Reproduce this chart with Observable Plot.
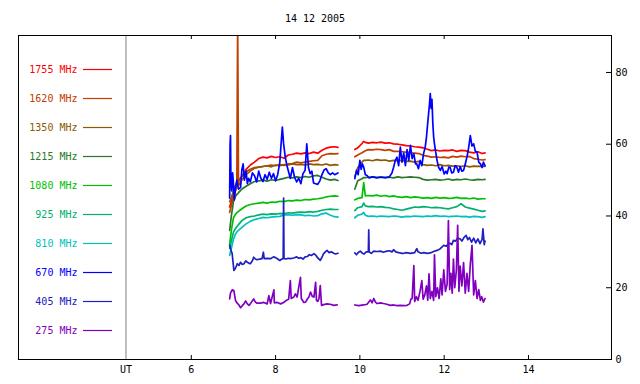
<!DOCTYPE html>
<html><head><meta charset="utf-8">
<script src="https://cdn.jsdelivr.net/npm/d3@7"></script>
<script src="https://cdn.jsdelivr.net/npm/@observablehq/plot@0.6"></script>
<style>
body{margin:0;background:#fff;}
#chart{position:relative;width:640px;height:384px;}
#chart svg{position:absolute;left:0;top:0;}
</style></head><body><div id="chart"></div>
<script>
const title = "14 12 2005";
const freqLabels = ["1755","1620","1350","1215","1080","925","810","670","405","275"];
const seriesColors = ["#ff0000","#c04000","#8c5a00","#287828","#00c000","#00b070","#00c0c0","#0000ff","#2020c0","#8000c0"];
const xTickHours = [6,8,10,12,14];
const utHour = 4.45;
const yTicks = [0,20,40,60,80];

// shared time grid (UT hours) for the smoother series; 9.7 = data gap
const hoursGrid = [6.91,6.95,7.0,7.05,7.08,7.1,7.12,7.2,7.3,7.4,7.5,7.6,7.7,7.8,7.9,8.0,8.1,8.2,8.3,8.4,8.5,8.6,8.7,8.8,8.9,9.0,9.1,9.2,9.3,9.4,9.48,
 9.7,
 9.88,9.95,10.05,10.09,10.13,10.2,10.3,10.4,10.5,10.6,10.7,10.8,10.9,11.0,11.1,11.2,11.3,11.4,11.5,11.6,11.7,11.8,11.9,12.0,12.1,12.2,12.3,12.4,12.5,12.6,12.7,12.8,12.9,12.97];

const mhz1755 = [42.5,44,47,48.5,49,49.3,49.6,51,53,54.2,55,56,56.4,56.2,56.6,56.3,56.5,56.1,57,57.2,57.5,57.3,57.6,57.4,57.8,57.5,58.3,58.9,59.2,59.3,59.1,
 null,
 58.5,59.0,60.2,60.8,60.5,60.3,60.5,60.4,60.6,60.3,60.4,60.1,60.0,59.8,59.6,59.5,59.3,59.2,59.0,58.6,58.2,58.4,58.1,58.3,58.2,58.4,58.0,58.3,58.2,57.8,57.6,57.9,57.4,57.6];
const mhz1620 = [41,43,45,47,48,95,48.5,50,51.5,52.5,53.3,53.6,53.8,54.0,54.2,54.0,54.3,54.1,54.5,54.6,55.0,54.8,55.0,55.2,55.4,55.5,56.8,57.2,57.4,57.3,57.4,
 null,
 56.5,57.0,57.6,57.9,58.2,58.5,58.4,58.6,58.5,58.3,58.5,58.0,58.0,57.9,57.8,57.6,57.5,57.4,56.9,56.7,56.4,56.5,56.3,56.4,56.2,56.6,56.4,56.7,56.5,56.6,56.0,55.8,55.6,55.7];
const mhz1350 = [44,45,47,48.5,49.2,49.5,50,51,52.3,53,53.5,53.6,53.8,54.0,53.7,54.2,54.0,54.3,54.2,54.5,54.3,54.4,54.2,54.5,54.3,54.4,54.2,54.5,54.1,54.3,54.2,
 null,
 51,53.5,55.0,55.5,55.5,55.6,55.4,55.7,55.5,55.6,55.3,55.5,55.4,55.5,55.2,55.3,55.0,55.2,54.3,54.1,54.2,54.0,54.3,54.0,54.1,53.9,54.0,53.8,54.0,53.7,53.9,53.8,53.9,53.8];
const mhz1215 = [36,40,44,45.5,46.0,46.2,46.5,47.5,48.3,49,49.6,49.8,50,49.7,50.1,49.9,50.2,50.5,50.8,50.6,50.9,50.7,51.0,50.8,51.2,51.3,50.8,50.3,50.0,50.2,49.9,
 null,
 47.5,49.8,50.4,50.7,50.7,50.8,50.9,50.8,50.9,50.7,50.8,50.6,50.9,50.7,50.8,50.9,50.8,50.7,50.2,50.0,50.1,50.2,50.0,50.1,50.3,50.0,50.2,50.1,50.3,50.1,50.0,50.2,50.1,50.2];
const mhz1080 = [32,36,39.5,40.5,40.9,41.1,41.3,42,42.8,43.2,43.4,43.6,43.8,43.6,43.9,43.8,44.1,44.0,44.3,44.2,44.4,44.3,44.6,44.5,44.7,44.8,45.0,45.3,45.5,45.6,45.5,
 null,
 44.5,44.9,45.1,49.3,45.6,45.7,45.6,45.8,45.5,45.7,45.4,45.6,45.3,45.2,45.4,45.1,45.3,45.2,45.0,45.1,44.9,45.2,45.0,45.1,44.9,45.0,45.2,44.9,45.0,44.8,45.0,44.7,44.8,44.8];
const mhz925 = [31,33,35.5,36.5,37,37.3,37.6,38.7,39.5,39.8,40.0,40.3,40.5,40.4,40.6,40.5,40.7,40.6,40.9,40.8,41.0,41.1,41.0,41.2,41.1,41.3,41.6,41.8,41.9,41.8,41.8,
 null,
 41.5,42.3,42.6,43.6,42.8,42.6,42.7,42.5,42.6,42.4,42.3,42.0,41.8,41.6,41.9,42.2,42.5,42.4,42.6,42.5,42.3,42.4,42.3,42.1,42.0,42.3,42.6,43.4,42.5,42.2,41.9,41.6,41.3,41.4];
const mhz810 = [29,31,33.5,35,35.5,35.8,36,36.8,37.8,38.5,39.0,39.3,39.6,39.5,39.7,39.8,39.9,40.3,40.4,40.2,40.4,40.3,40.1,40.2,40.0,40.1,40.6,40.8,40.2,39.8,39.7,
 null,
 39.5,40.2,40.5,41.0,40.2,39.9,40.0,39.8,40.0,39.9,39.8,40.0,39.9,39.7,39.9,39.8,40.0,39.9,39.8,40.0,39.9,40.1,39.9,40.0,39.8,39.9,40.0,39.8,39.9,39.7,39.9,39.8,39.6,39.8];

// noisy series with their own sample times
const hours670 = [6.91,6.92,6.93,6.94,6.96,6.98,7.0,7.02,7.05,7.08,7.12,7.17,7.2,7.23,7.26,7.3,7.33,7.36,7.4,7.45,7.5,7.55,7.6,7.65,7.7,7.75,7.8,7.85,7.9,7.95,8.0,8.05,8.1,8.13,8.16,8.19,8.23,8.27,8.3,8.35,8.4,8.45,8.5,8.55,8.6,8.65,8.7,8.74,8.78,8.82,8.86,8.9,8.95,9.0,9.05,9.1,9.15,9.2,9.25,9.3,9.35,9.4,9.48,
 9.7,
 9.88,9.92,9.96,10.0,10.03,10.06,10.09,10.13,10.17,10.22,10.3,10.4,10.5,10.6,10.7,10.76,10.8,10.84,10.88,10.92,10.96,11.0,11.04,11.08,11.12,11.16,11.2,11.24,11.28,11.32,11.35,11.39,11.43,11.47,11.51,11.55,11.58,11.61,11.63,11.65,11.67,11.69,11.71,11.73,11.75,11.78,11.81,11.83,11.87,11.91,11.95,12.0,12.04,12.07,12.11,12.14,12.18,12.22,12.26,12.3,12.34,12.38,12.42,12.46,12.5,12.54,12.58,12.62,12.66,12.7,12.74,12.78,12.82,12.86,12.9,12.93,12.97];
const mhz670 = [45,60,62.4,50,47,52,49,44.5,48,50,47.5,48,53,54.5,50,52.5,49,50.5,49.5,52,51.2,49.5,52.5,50.5,49.6,51.5,50.2,52.2,50.5,51.8,49.8,51.5,55,60,64.8,60.1,56.4,54,52.7,50.5,53.5,50.8,49.5,50.5,49,51.8,52.7,60.1,53.5,51.8,52.5,49.2,49.0,48.8,49.8,51.5,52.8,53.2,52.0,51.5,52.0,51.5,52.0,
 null,
 50.4,52.7,51.5,55.5,53,54.5,53.6,51.5,51.3,50.6,50.9,50.6,50.8,50.7,50.9,52,53.6,55.5,56.4,54,59.2,55,57.5,54,58.5,55.5,59.7,56,57.3,54.5,54.5,53.2,55.5,54,57.3,59.2,62,66,68.5,71,74.1,70,72.5,66,62,59.2,57,55.5,53.5,52.7,53.8,51.7,52.5,51.8,53.6,53.6,52,52.2,54,53.6,52.2,53.8,52.5,52.7,54.5,56.4,59,62.4,59.5,60.1,58,57.8,55,54.5,53.5,55,54];

const hours405 = [6.91,6.94,6.97,7.0,7.01,7.05,7.09,7.13,7.17,7.21,7.25,7.29,7.33,7.37,7.4,7.45,7.48,7.52,7.56,7.62,7.68,7.71,7.73,7.8,7.88,7.95,8.0,8.05,8.1,8.15,8.18,8.19,8.2,8.25,8.3,8.35,8.43,8.5,8.55,8.6,8.65,8.7,8.75,8.8,8.85,8.91,8.96,9.0,9.06,9.1,9.14,9.18,9.22,9.27,9.32,9.38,9.42,9.48,
 9.7,
 9.88,9.92,9.96,10.01,10.05,10.1,10.15,10.2,10.21,10.22,10.27,10.33,10.4,10.5,10.55,10.64,10.7,10.76,10.8,10.85,10.92,11.0,11.04,11.1,11.2,11.3,11.35,11.38,11.45,11.52,11.6,11.67,11.75,11.83,11.9,11.99,12.05,12.1,12.14,12.18,12.22,12.27,12.32,12.38,12.42,12.47,12.52,12.56,12.6,12.65,12.7,12.75,12.8,12.85,12.9,12.92,12.95,12.97];
const mhz405 = [31.8,30.5,29.5,26,24.8,25.5,26.7,26.2,27.1,26.5,26.7,27.5,27.1,26.8,26.7,27.5,28.5,28.0,27.8,28.0,28.1,29.9,28.1,28.2,28.1,28.6,28.4,28.0,27.6,28.0,28.1,45.0,28.1,28.0,28.2,28.1,28.3,28.6,28.2,28.4,28.0,28.6,28.7,29.2,29.0,29.5,29.0,28.3,27.6,28.5,29.5,30.0,30.4,29.8,30.0,29.6,29.4,29.6,
 null,
 29.7,29.2,29.8,30.2,29.7,29.4,30.0,30.0,36.1,30.0,29.6,30.2,30.1,30.2,29.9,30.2,30.3,30.0,30.6,30.0,29.8,29.6,29.6,29.8,29.6,29.8,30.9,30.0,29.6,29.8,29.6,29.7,30.1,30.4,30.8,31.8,31.6,32.2,32.4,32.0,33.2,33.0,33.8,33.6,33.0,34.0,34.6,33.4,34.0,32.7,33.8,32.5,33.6,32.3,33.5,36.4,32.0,33.0];

const hours275 = [6.91,6.93,6.97,7.01,7.05,7.09,7.13,7.17,7.21,7.25,7.29,7.33,7.37,7.4,7.48,7.52,7.56,7.64,7.72,7.8,7.84,7.88,7.96,7.97,8.04,8.12,8.19,8.27,8.31,8.35,8.37,8.43,8.47,8.51,8.55,8.59,8.61,8.67,8.71,8.75,8.79,8.83,8.87,8.91,8.95,8.97,9.0,9.03,9.06,9.09,9.14,9.22,9.3,9.38,9.46,
 9.7,
 9.88,9.97,10.09,10.17,10.25,10.29,10.33,10.37,10.41,10.49,10.56,10.64,10.72,10.8,10.88,10.96,11.04,11.12,11.18,11.21,11.24,11.28,11.3,11.34,11.38,11.43,11.47,11.5,11.54,11.58,11.61,11.64,11.67,11.71,11.75,11.77,11.8,11.84,11.88,11.92,11.95,11.99,12.03,12.07,12.1,12.13,12.16,12.19,12.22,12.25,12.29,12.32,12.35,12.38,12.42,12.46,12.5,12.54,12.58,12.62,12.66,12.7,12.74,12.78,12.82,12.86,12.89,12.93,12.97];
const mhz275 = [16.9,18.5,19.4,19.2,16.4,15.7,15.2,14.4,15.0,15.5,16.3,15.5,15.1,15.5,16.9,16.0,15.7,15.7,15.9,15.5,17.8,15.6,19.4,15.8,15.9,15.5,15.9,16.6,16.8,22.0,17.0,17.4,18.3,17.4,20.2,22.9,17.0,15.9,16.0,16.8,17.4,18.8,17.6,17.4,21.5,16.5,16.2,17.0,20.6,15.1,15.3,15.5,15.4,15.1,15.2,
 null,
 15.2,15.0,15.2,15.4,16.6,15.8,17.0,16.0,15.6,15.8,15.6,15.4,15.1,15.2,15.0,15.1,15.0,15.1,15.5,16.8,17.0,26.2,16.2,17.5,16.5,19.2,22.0,16.8,18.0,20.5,16.5,23.9,17.0,19.0,16.5,29.2,17.5,20.0,17.0,22.5,18.0,25.0,19.0,21.0,38.7,19.5,24.0,18.5,28.0,20.0,25.0,37.4,19.0,26.0,20.5,27.0,18.5,24.0,19.0,26.5,31.8,18.0,22.0,17.0,19.5,16.5,17.5,16.0,17.0];

const seriesHours = [hoursGrid,hoursGrid,hoursGrid,hoursGrid,hoursGrid,hoursGrid,hoursGrid,hours670,hours405,hours275];
const seriesValues = [mhz1755,mhz1620,mhz1350,mhz1215,mhz1080,mhz925,mhz810,mhz670,mhz405,mhz275];

const font = "'DejaVu Sans Mono', monospace";
const seriesMarks = seriesValues.map((vals, k) => {
  const hrs = seriesHours[k];
  const data = hrs.map((h, i) => ({h, v: vals[i] ?? null}));
  return Plot.line(data, {x: "h", y: "v", stroke: seriesColors[k], strokeWidth: 1.7, clip: true});
});

const main = Plot.plot({
  width: 640, height: 384,
  marginLeft: 18, marginRight: 29, marginTop: 35, marginBottom: 25,
  x: {domain: [1.9, 15.97], axis: null},
  y: {domain: [0, 90.3], axis: null},
  style: {fontFamily: font, fontSize: "10px", background: "white", color: "black"},
  marks: [
    Plot.ruleX([utHour], {stroke: "#808080"}),
    ...seriesMarks,
    Plot.frame({stroke: "black"}),
    Plot.ruleX(xTickHours, {insetTop: 320, stroke: "black"}),
    Plot.ruleX(xTickHours, {insetBottom: 320, stroke: "black"}),
    Plot.ruleY(yTicks.filter(d => d > 0), {insetLeft: 588, stroke: "black"}),
    Plot.axisX({anchor: "bottom", ticks: [utHour, ...xTickHours], tickSize: 0, tickPadding: 6, label: null,
      tickFormat: d => d === utHour ? "UT" : String(d)}),
    Plot.axisY({anchor: "right", ticks: yTicks, tickSize: 0, tickPadding: 4, label: null}),
    Plot.text([title], {frameAnchor: "top", dy: -17, lineAnchor: "middle", text: d => d, fill: "black"})
  ]
});

const legend = Plot.plot({
  width: 640, height: 384, margin: 0,
  x: {domain: [0, 1], range: [83, 112], axis: null},
  y: {type: "point", domain: freqLabels, range: [67.5, 330.5], padding: 0, axis: null},
  color: {type: "identity"},
  style: {fontFamily: font, fontSize: "10px", background: "transparent"},
  marks: [
    Plot.ruleY(freqLabels, {y: d => d, x1: 0, x2: 1, stroke: (d, i) => seriesColors[i], strokeWidth: 1.2}),
    Plot.text(freqLabels, {y: d => d, x: 0, dx: -6, textAnchor: "end", lineAnchor: "middle",
      text: d => d + " MHz", fill: (d, i) => seriesColors[i]})
  ]
});

const el = document.getElementById("chart");
el.appendChild(main);
el.appendChild(legend);
</script>
</body></html>
